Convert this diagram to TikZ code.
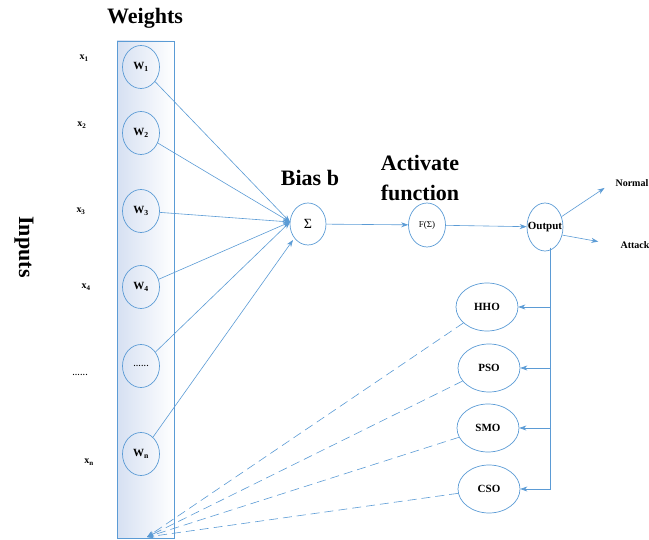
\documentclass[tikz,border=0pt]{standalone}
\usepackage{fontspec}
\setmainfont{Liberation Serif}
\usetikzlibrary{arrows.meta,shapes.geometric}
\definecolor{lb}{RGB}{91,155,213}
\definecolor{lfill}{RGB}{214,224,242}
\begin{document}
\begin{tikzpicture}[x=1pt,y=-1pt,
  arr/.style={-{Stealth[length=7pt,width=5pt]}},
  conn/.style={draw=lb,line width=0.6pt},
  wnode/.style={ellipse,draw=lb,line width=0.7pt,minimum width=37pt,minimum height=43pt,inner sep=0pt,label={[font=\bfseries\fontsize{11}{13}\selectfont]center:#1}},
  onode/.style={ellipse,draw=lb,line width=0.7pt,minimum width=62pt,minimum height=48pt,inner sep=0pt,label={[font=\bfseries\fontsize{11}{13}\selectfont]center:#1}},
  title/.style={font=\bfseries\fontsize{22}{30}\selectfont,align=center},
  xlab/.style={font=\bfseries\fontsize{10}{12}\selectfont},
  dsh/.style={conn,dash pattern=on 9pt off 5pt}]
\useasboundingbox (0,0) rectangle (649,540);
% weights box
\path[left color=lfill,right color=white] (117,41) rectangle (174,538);
\draw[lb,line width=0.8pt] (117,41) rectangle (174,538);
\node[title] (weights) at (145,18) {Weights};
\node[title,rotate=-90] (inputs) at (24,247) {Inputs};
% W nodes
\node[wnode={W\textsubscript{1}}] (w1) at (141,67) {};
\node[wnode={W\textsubscript{2}}] (w2) at (141,133) {};
\node[wnode={W\textsubscript{3}}] (w3) at (141,211) {};
\node[wnode={W\textsubscript{4}}] (w4) at (141,287) {};
\node[wnode={\fontsize{8}{9}\selectfont.\kern0.6pt.\kern0.6pt.\kern0.6pt.\kern0.6pt.\kern0.6pt.}] (wd) at (141,366) {};
\node[wnode={W\textsubscript{n}}] (wn) at (141,454) {};
% x labels
\node[xlab] (x1) at (84,58) {x\textsubscript{1}};
\node[xlab] (x2) at (82,125) {x\textsubscript{2}};
\node[xlab] (x3) at (81,211) {x\textsubscript{3}};
\node[xlab] (x4) at (86,287) {x\textsubscript{4}};
\node[xlab] (xd) at (80,375) {\fontsize{8}{9}\selectfont.\kern0.6pt.\kern0.6pt.\kern0.6pt.\kern0.6pt.\kern0.6pt.};
\node[xlab] (xn) at (89,462) {x\textsubscript{n}};
% sum, activation, output
\node[ellipse,draw=lb,line width=0.7pt,minimum width=36pt,minimum height=42pt,inner sep=0pt,
  label={[font=\fontsize{14}{16}\selectfont]center:Σ}] (sig) at (308,224) {};
\node[ellipse,draw=lb,line width=0.7pt,minimum width=37pt,minimum height=44pt,inner sep=0pt,
  label={[font=\fontsize{9}{10}\selectfont]center:F(Σ)}] (act) at (427,225) {};
\node[ellipse,draw=lb,line width=0.7pt,minimum width=36pt,minimum height=48pt,inner sep=0pt,
  label={[font=\bfseries\fontsize{11}{13}\selectfont]center:Output}] (out) at (545,227) {};
\node[title] (bias) at (310,178) {Bias b};
\node[title] (actf) at (420,178) {Activate\\function};
\node[font=\bfseries\fontsize{10}{12}\selectfont,anchor=west] (normal) at (612,183) {Normal};
\node[font=\bfseries\fontsize{10}{12}\selectfont,anchor=west] (attack) at (617,245) {Attack};
% optimizers
\node[onode=HHO] (hho) at (487,307) {};
\node[onode=PSO] (pso) at (489,368) {};
\node[onode=SMO] (smo) at (488,428) {};
\node[onode=CSO] (cso) at (489,489) {};
% coordinates
\coordinate (sigw) at (290,222);
\coordinate (sigsw) at (293,240);
\coordinate (vtop) at (550,248);
\coordinate (sink) at (147,537);
% weight arrows
\foreach \n in {w1,w2,w3,w4,wd}{\draw[conn,arr] (\n) -- (sigw);}
\draw[conn,arr] (wn) -- (sigsw);
\draw[conn,arr] (sig) -- (act);
\draw[conn,arr] (act) -- (out);
\draw[conn,arr,shorten >=9pt] (out.32) -- (normal.west);
\draw[conn,arr,shorten >=19pt] (out.-25) -- (attack.west);
% feedback
\foreach \n in {hho,pso,smo,cso}{\draw[conn,arr] (vtop) |- (\n.east);}
\foreach \n in {hho,pso,smo,cso}{\draw[dsh,arr] (\n) -- (sink);}
\end{tikzpicture}
\end{document}
